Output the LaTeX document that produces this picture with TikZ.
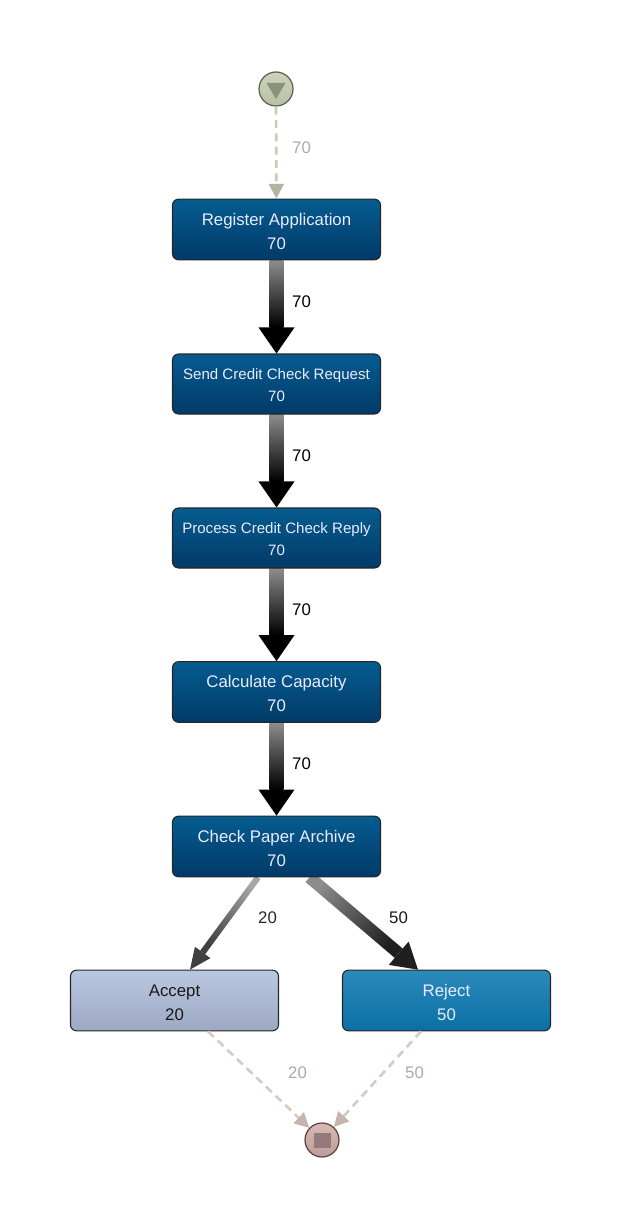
\documentclass[tikz,border=0pt]{standalone}
\usepackage{fontspec}
\setmainfont{Liberation Sans}
\usepackage{tikz}
\usetikzlibrary{arrows.meta, calc, backgrounds}

\definecolor{actTop}{HTML}{055C90}
\definecolor{actBot}{HTML}{023A68}
\definecolor{acceptTop}{HTML}{BAC7E0}
\definecolor{acceptBot}{HTML}{9DA9C3}
\definecolor{rejectTop}{HTML}{2A8BBB}
\definecolor{rejectBot}{HTML}{0C6FA4}
\definecolor{startLine}{HTML}{C6CEB8}
\definecolor{startTip}{HTML}{ADB89E}
\definecolor{startText}{HTML}{A9AE9A}
\definecolor{startTop}{HTML}{CDD4BC}
\definecolor{startBot}{HTML}{B7C0A4}
\definecolor{startEdge}{HTML}{5A6048}
\definecolor{startMark}{HTML}{8B9279}
\definecolor{endLine}{HTML}{D6CAC6}
\definecolor{endTip}{HTML}{C5B5AF}
\definecolor{endText}{HTML}{B5A5A0}
\definecolor{endTop}{HTML}{D9B9B5}
\definecolor{endBot}{HTML}{BD9C98}
\definecolor{endEdge}{HTML}{5A3E3E}
\definecolor{endMark}{HTML}{96797A}

% shaft with a gradient, then a flat head: from, to, half width, head half width, head length, colours, angle
\newcommand{\flowedge}[8]{
  \coordinate (h) at ($(#2)!#5!(#1)$);
  \begin{pgfonlayer}{background}
    \shade[top color=#6, bottom color=#7, shading angle=#8]
      ($(#1)!#3!90:(h)$) -- ($(h)!#3!-90:(#1)$) -- ($(h)!#3!90:(#1)$) -- ($(#1)!#3!-90:(h)$) -- cycle;
  \end{pgfonlayer}
  \fill[#7] ($(h)!#4!90:(#1)$) -- (#2) -- ($(h)!#4!-90:(#1)$) -- cycle;
}

\begin{document}
\begin{tikzpicture}[
  x=0.75pt, y=-0.75pt,
  font=\fontsize{12.6}{18}\selectfont,
  act/.style={draw=black!85, line width=0.8pt, rounded corners=4.5pt, align=center,
    minimum width=156pt, minimum height=45.5pt, inner sep=0pt, text=white!92!blue,
    top color=actTop, bottom color=actBot, text height=29.5pt},
  smallact/.style={act, minimum height=45pt, text height=26.5pt, font=\fontsize{11.3}{16.5}\selectfont},
  terminal/.style={circle, draw, line width=0.9pt, minimum size=25.5pt, inner sep=0pt},
  count/.style={text=black},
  startflow/.style={dashed, dash pattern=on 6pt off 4pt, line width=2pt, startLine,
    -{Triangle[width=11pt, length=11pt, color=startTip]}},
  endflow/.style={dashed, dash pattern=on 6pt off 4pt, line width=2pt, endLine,
    -{Triangle[width=11pt, length=11pt, color=endTip]}},
]
  \useasboundingbox (0, 0) rectangle (621, 1230);

  % Terminals
  \node[terminal, draw=startEdge, top color=startTop, bottom color=startBot] (start) at (276, 89) {};
  \node[terminal, draw=endEdge, top color=endTop, bottom color=endBot] (stop) at (322, 1140) {};
  \fill[startMark] ($(start)+(-9.5,-6)$) -- ++(19, 0) -- ++(-9.5, 16) -- cycle;
  \fill[endMark] ($(stop)+(-8.5,-7.5)$) rectangle ++(17, 15);

  % Activities
  \node[act] (register) at (276.5, 229.5) {Register Application\\70};
  \node[smallact] (send) at (276.5, 384) {Send Credit Check Request\\70};
  \node[smallact] (process) at (276.5, 538) {Process Credit Check Reply\\70};
  \node[act] (capacity) at (276.5, 692) {Calculate Capacity\\70};
  \node[act] (archive) at (276.5, 846.5) {Check Paper Archive\\70};
  \node[act, text=black!90, top color=acceptTop, bottom color=acceptBot] (accept) at (174.5, 1000.5) {Accept\\20};
  \node[act, top color=rejectTop, bottom color=rejectBot] (reject) at (446.5, 1000.5) {Reject\\50};

  % Heavy flows
  \foreach \a/\b in {register/send, send/process, process/capacity, capacity/archive}
    \flowedge{\a.south}{\b.north}{5.2pt}{13.5pt}{19.5pt}{black!45}{black}{0};

  \coordinate (archiveL) at ($(archive.south)+(-18.5, 0)$);
  \coordinate (archiveR) at ($(archive.south)+(33, 0)$);
  \coordinate (acceptIn) at ($(accept.north)+(15.5, 0)$);
  \coordinate (rejectIn) at ($(reject.north)+(-28.5, 0)$);
  \flowedge{archiveL}{acceptIn}{2.3pt}{7.2pt}{16pt}{black!35}{black!75}{-36};
  \flowedge{archiveR}{rejectIn}{4.6pt}{11.5pt}{19pt}{black!45}{black!88}{48};

  % Dashed flows
  \coordinate (acceptOut) at ($(accept.south)+(33.5, 0)$);
  \coordinate (rejectOut) at ($(reject.south)+(-25.5, 0)$);
  \draw[startflow] (start) -- (register);
  \draw[endflow] (acceptOut) -- (stop);
  \draw[endflow] (rejectOut) -- (stop);

  % Flow labels
  \node[text=startText] (l0) at (301.5, 147.7) {70};
  \node[count] (l1) at (301.5, 301.7) {70};
  \node[count] (l2) at (301.5, 455.7) {70};
  \node[count] (l3) at (301.5, 609.7) {70};
  \node[count] (l4) at (301.5, 763.7) {70};
  \node[text=black!85] (l5) at (267.5, 917.7) {20};
  \node[text=black!90] (l6) at (398.5, 917.7) {50};
  \node[text=endText] (l7) at (297.5, 1072.7) {20};
  \node[text=endText] (l8) at (414.5, 1072.7) {50};
\end{tikzpicture}
\end{document}
